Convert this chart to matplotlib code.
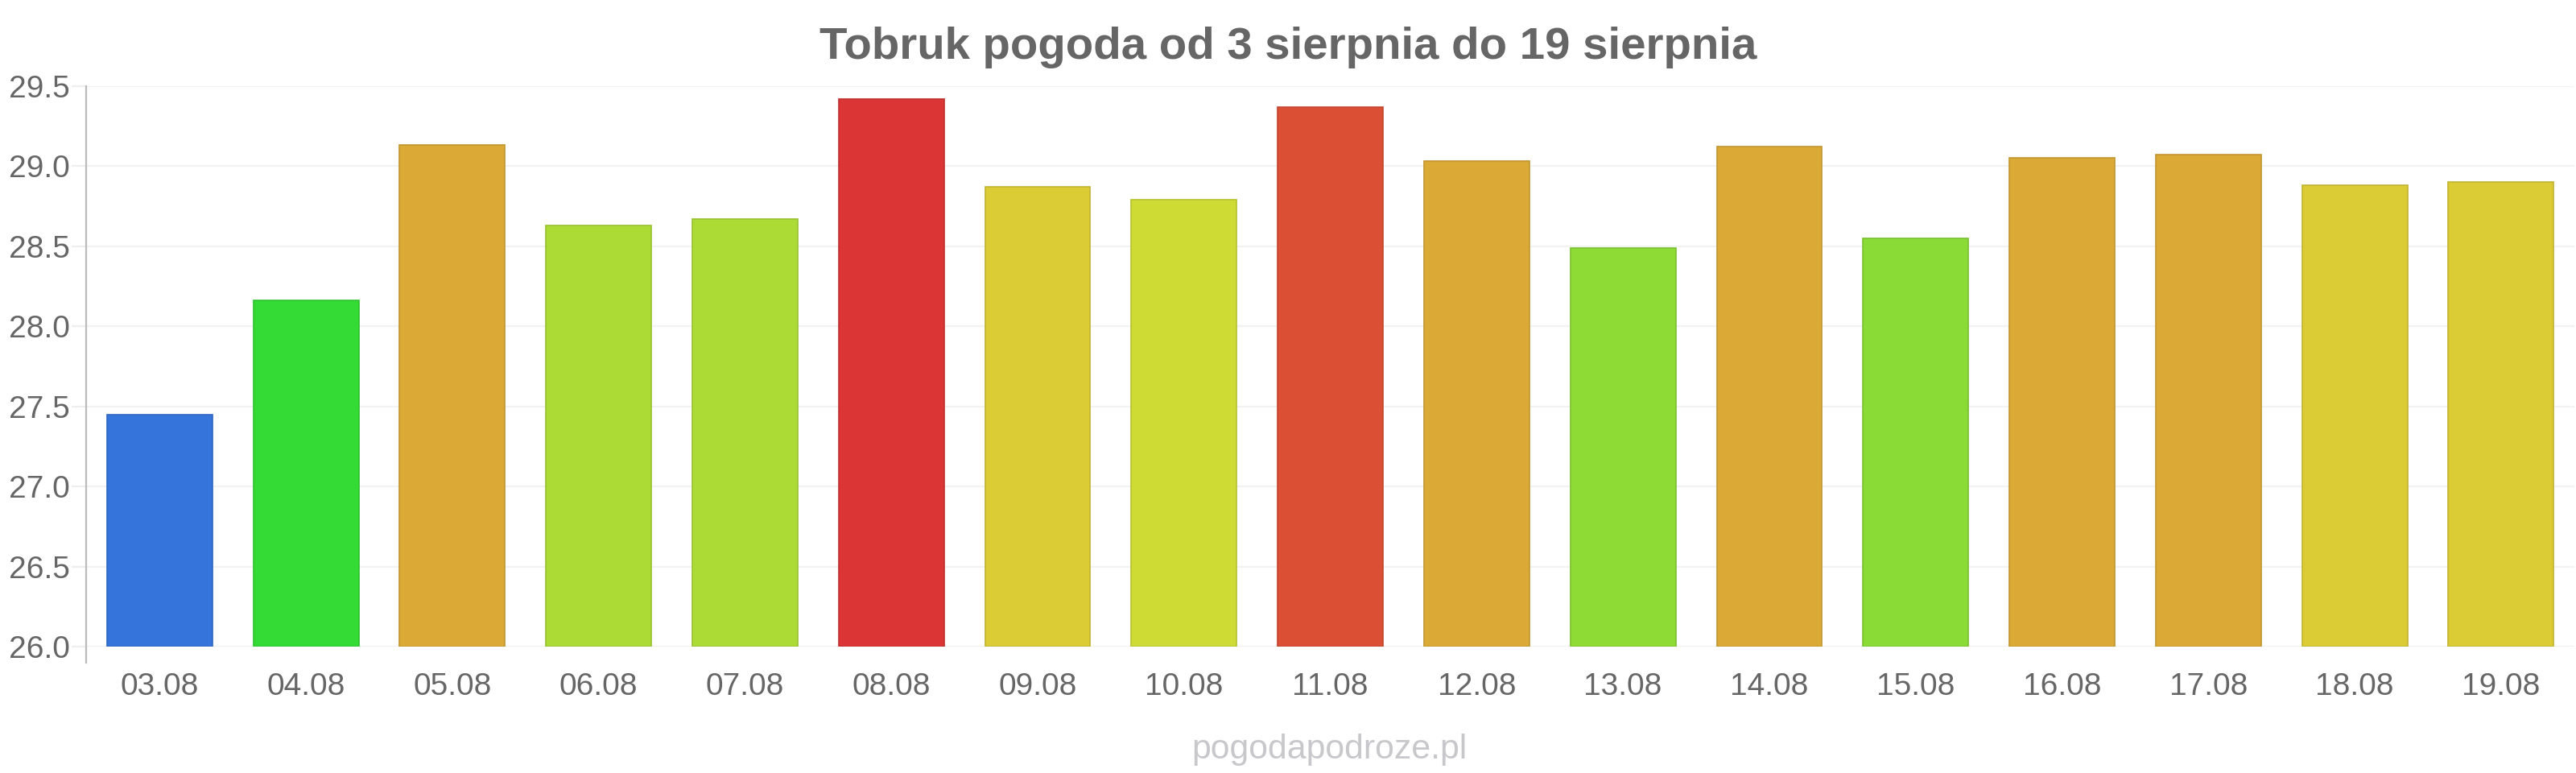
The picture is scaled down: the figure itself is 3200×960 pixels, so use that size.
import matplotlib.pyplot as plt
import matplotlib.colors as mcolors

# -------------------------------
# Data
# -------------------------------
days = ['03.08', '04.08', '05.08', '06.08', '07.08', '08.08', '09.08', '10.08', '11.08',
        '12.08', '13.08', '14.08', '15.08', '16.08', '17.08', '18.08', '19.08']
temps = [27.45, 28.16, 29.13, 28.63, 28.67, 29.42, 28.87, 28.79, 29.37,
         29.03, 28.49, 29.12, 28.55, 29.05, 29.07, 28.88, 28.90]
colors = ['#3575DB', '#35DB35', '#DBA935', '#ADDB35', '#ADDB35', '#DB3535', '#DBCB35', '#CFDB35', '#DB5035',
          '#DBA935', '#8EDB35', '#DBA935', '#8ADB35', '#DBA935', '#DBA935', '#DBCB35', '#DBCB35']
yticks = [26.0, 26.5, 27.0, 27.5, 28.0, 28.5, 29.0, 29.5]

title = 'Tobruk pogoda od 3 sierpnia do 19 sierpnia'
watermark = 'pogodapodroze.pl'

plt.rcParams['font.family'] = ['Liberation Sans', 'DejaVu Sans']
text_col = '#666666'

# -------------------------------
# Plotting
# -------------------------------
fig = plt.figure(figsize=(16, 4.8), dpi=200)
ax = fig.add_axes([0.0333, 0.1635, 0.966, 0.7254])

edges = [tuple(c * 0.88 for c in mcolors.to_rgb(col)) for col in colors]
x = list(range(len(days)))
ax.bar(x, [t - 26.0 for t in temps], bottom=26.0, width=0.72,
       color=colors, edgecolor=edges, linewidth=0.6, zorder=3)

ax.set_xlim(-0.505, len(days) - 0.5)
ax.set_ylim(26.0, 29.5)
ax.set_yticks(yticks)
ax.set_yticklabels([f'{v:.1f}' for v in yticks])
ax.set_xticks(x)
ax.set_xticklabels(days)

ax.grid(axis='y', color='#f2f2f2', linewidth=0.8, zorder=0)
ax.tick_params(axis='y', length=6.5, width=0.8, color='#eeeeee', pad=0.7,
               labelsize=14, labelcolor=text_col)
ax.tick_params(axis='x', length=0, pad=11.5, labelsize=14, labelcolor=text_col)

for side in ['top', 'right', 'bottom']:
    ax.spines[side].set_visible(False)
ax.spines['left'].set_color('#bbbbbb')
ax.spines['left'].set_linewidth(0.8)
ax.spines['left'].set_bounds(25.9, 29.5)

fig.text(0.5, 1 - 73 / 960, title, ha='center', va='baseline',
         fontsize=20.3, fontweight='bold', color=text_col)
fig.text(0.516, 1 - 942 / 960, watermark, ha='center', va='baseline',
         fontsize=15.4, color='#c8c8cc')

plt.savefig('out.png', dpi=200)
